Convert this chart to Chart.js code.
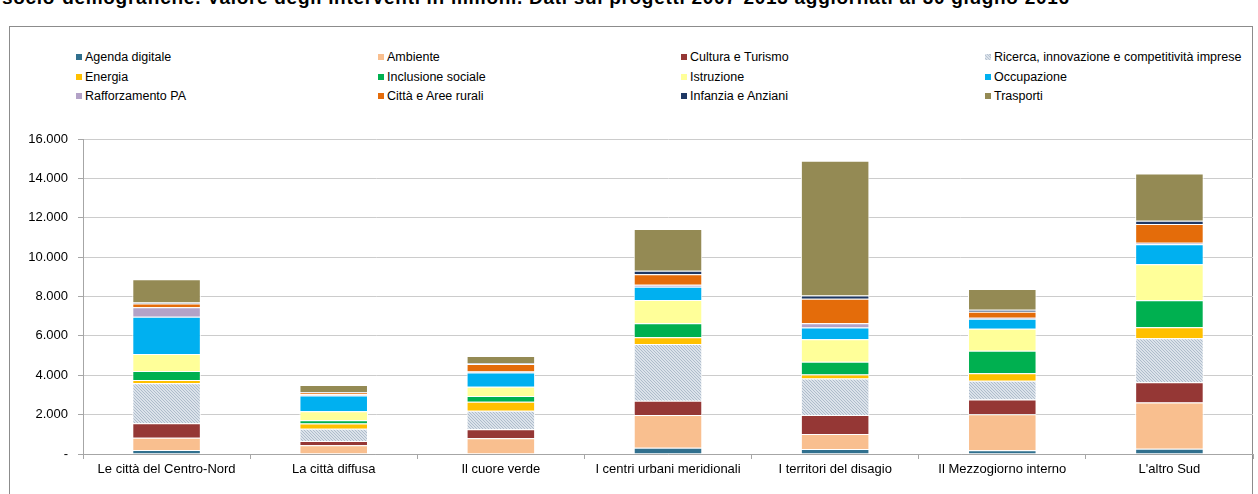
<!DOCTYPE html>
<html>
<head>
<meta charset="utf-8">
<script src="https://cdn.jsdelivr.net/npm/chart.js@4.4.1/dist/chart.umd.min.js"></script>
<style>
	html, body { margin: 0; padding: 0; background: #fff; }
	body { width: 1258px; height: 494px; position: relative; overflow: hidden; font-family: "Liberation Sans", Arial, sans-serif; }
	#title { position: absolute; left: 2px; top: -13px; font-size: 19px; letter-spacing: 0.7px; font-weight: bold; color: #000; white-space: nowrap; }
	#frame { position: absolute; left: 9px; top: 26px; width: 1242px; height: 520px; border: 1px solid #8c8c8c; }
	#legend { position: absolute; left: 76px; top: 48px; display: grid; grid-template-columns: 302px 303px 304px 270px; grid-auto-rows: 19.5px; font-size: 12.5px; color: #000; }
	#legend div { white-space: nowrap; line-height: 19px; }
	#legend span.box { display: inline-block; width: 6px; height: 6px; margin-right: 3px; vertical-align: 1px; }
	#chart-wrap { position: absolute; left: 0; top: 0; width: 1258px; height: 494px; }
</style>
</head>
<body>
<div id="title">socio-demografiche. Valore degli interventi in milioni. Dati sui progetti 2007-2013 aggiornati al 30 giugno 2016</div>
<div id="frame"></div>
<div id="legend"></div>
<div id="chart-wrap"><canvas id="chart-canvas"></canvas></div>
<script>
var categories = ["Le città del Centro-Nord", "La città diffusa", "Il cuore verde", "I centri urbani meridionali", "I territori del disagio", "Il Mezzogiorno interno", "L'altro Sud"];

var seriesNames = ["Agenda digitale", "Ambiente", "Cultura e Turismo", "Ricerca, innovazione e competitività imprese",
	"Energia", "Inclusione sociale", "Istruzione", "Occupazione",
	"Rafforzamento PA", "Città e Aree rurali", "Infanzia e Anziani", "Trasporti"];

var agendaDigitale   = [200,    0,    0,  320,  250,  190,  270];
var ambiente         = [630,  440,  800, 1660,  770, 1830, 2340];
var culturaTurismo   = [730,  220,  455,  730,  960,  745, 1030];
var ricerca          = [2030, 620,  945, 2880, 1860,  950, 2235];
var energia          = [170,  270,  455,  340,  200,  390,  560];
var inclusione       = [455,  170,  290,  710,  640, 1135, 1370];
var istruzione       = [865,  450,  470, 1185, 1150, 1117, 1830];
var occupazione      = [1895, 800,  730,  676,  595,  508, 1015];
var rafforzamentoPA  = [475,   60,   50,  100,  220,   60,   80];
var cittaAreeRurali  = [200,  100,  380,  530, 1235,  300,  950];
var infanziaAnziani  = [40,    20,   30,  180,  170,  100,  170];
var trasporti        = [1190, 350,  370, 2120, 6840, 1055, 2400];

var yTicks = [0, 2000, 4000, 6000, 8000, 10000, 12000, 14000, 16000];

var seriesColors = ["#31708e", "#f9bf8f", "#953735", "hatch", "#ffc000", "#00b050",
	"#ffff99", "#00b0f0", "#b3a2c7", "#e46c0a", "#1f3864", "#948a54"];

function makeHatch() {
	var c = document.createElement("canvas");
	c.width = 3; c.height = 3;
	var ctx = c.getContext("2d");
	ctx.fillStyle = "#dbe2ea";
	ctx.fillRect(0, 0, 3, 3);
	ctx.fillStyle = "#aebccb";
	// downward diagonal, one pixel per row
	ctx.fillRect(0, 0, 1, 1);
	ctx.fillRect(1, 1, 1, 1);
	ctx.fillRect(2, 2, 1, 1);
	return ctx.createPattern(c, "repeat");
}

function buildLegend() {
	var legend = document.getElementById("legend");
	for(var i = 0; i < seriesNames.length; i++) {
		var item = document.createElement("div");
		var box = document.createElement("span");
		box.className = "box";
		if(seriesColors[i] === "hatch")
			box.style.background = "repeating-linear-gradient(45deg, #dbe2ea 0 1px, #b8c4d2 1px 2px)";
		else
			box.style.background = seriesColors[i];
		item.appendChild(box);
		item.appendChild(document.createTextNode(seriesNames[i]));
		legend.appendChild(item);
	}
}

window.onload = function() {
	buildLegend();

	var hatch = makeHatch();
	var seriesValues = [agendaDigitale, ambiente, culturaTurismo, ricerca, energia, inclusione,
		istruzione, occupazione, rafforzamentoPA, cittaAreeRurali, infanziaAnziani, trasporti];
	var datasets = [];

	for(var i = 0; i < seriesNames.length; i++) {
		datasets.push({
			label: seriesNames[i],
			data: seriesValues[i],
			backgroundColor: seriesColors[i] === "hatch" ? hatch : seriesColors[i],
			borderColor: "#ffffff",
			borderWidth: 1,
			barPercentage: 0.41,
			categoryPercentage: 1
		});
	}

	new Chart(document.getElementById("chart-canvas"), {
		type: "bar",
		data: {
			labels: categories,
			datasets: datasets
		},
		options: {
			responsive: true,
			maintainAspectRatio: false,
			animation: false,
			layout: {
				padding: { top: 139, right: 5, bottom: 0, left: 0 }
			},
			plugins: {
				legend: { display: false },
				tooltip: { enabled: false }
			},
			scales: {
				x: {
					stacked: true,
					grid: { offset: true, drawOnChartArea: false, drawTicks: true, tickLength: 5, color: "#a6a6a6" },
					border: { color: "#a6a6a6" },
					ticks: { color: "#000", font: { family: "Liberation Sans", size: 13 }, padding: 3, maxRotation: 0, autoSkip: false },
					afterFit: function(scale) { scale.height = 40; }
				},
				y: {
					stacked: true,
					min: 0,
					max: 16000,
					afterBuildTicks: function(scale) {
						scale.ticks = yTicks.map(function(v) { return { value: v }; });
					},
					grid: { color: "#cccccc", tickLength: 5, tickColor: "#a6a6a6" },
					border: { color: "#a6a6a6" },
					ticks: {
						color: "#000",
						font: { family: "Liberation Sans", size: 13 },
						padding: 10,
						callback: function(v) { return v === 0 ? "-" : (v / 1000) + ".000"; }
					},
					afterFit: function(scale) { scale.width = 83; }
				}
			}
		}
	});
}
</script>
</body>
</html>
